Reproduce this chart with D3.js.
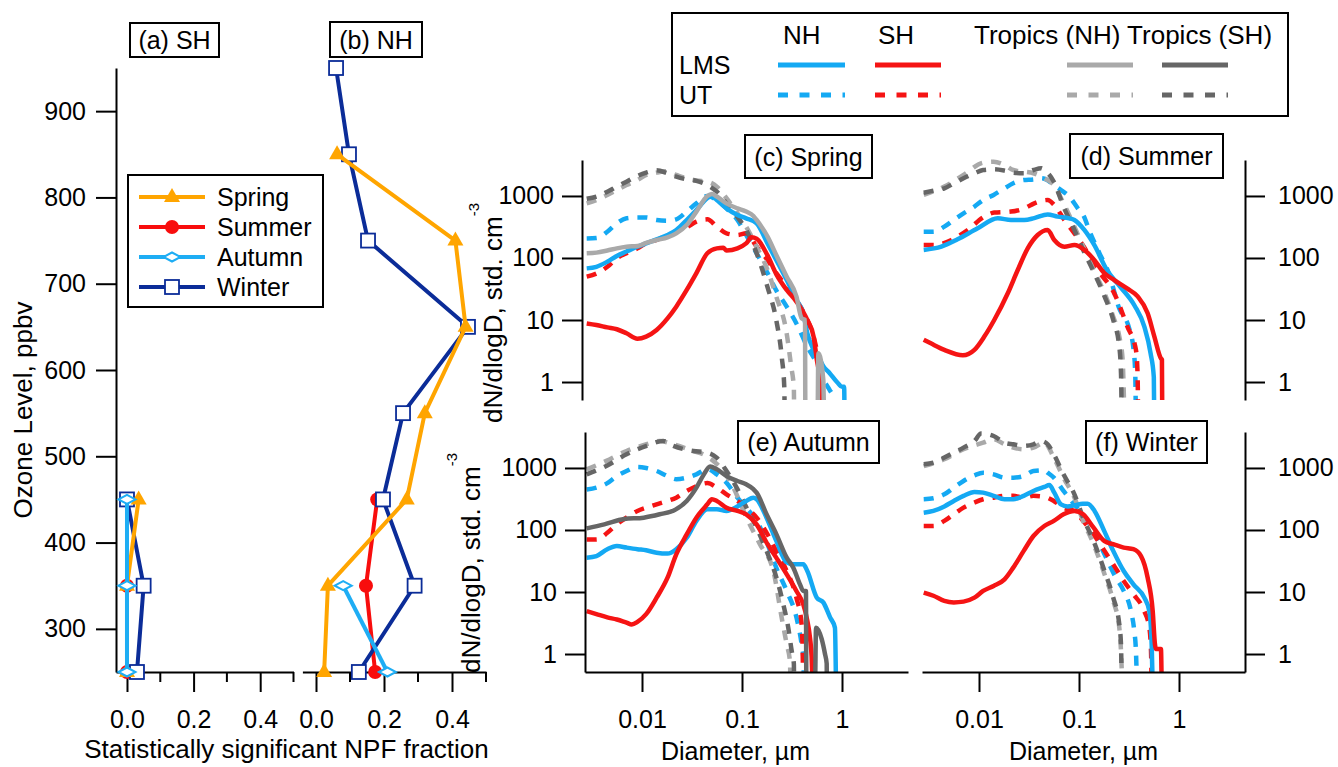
<!DOCTYPE html>
<html><head><meta charset="utf-8">
<script src="https://cdn.jsdelivr.net/npm/d3@7"></script>
<style>body{margin:0;background:#fff}</style>
</head><body>
<svg id="chart" width="1338" height="767"></svg>
<script>
// ---------------- DATA ----------------
// (a),(b): fraction of statistically significant NPF per ozone bin
const ozoneLevels = [250, 350, 450, 550, 650, 750, 850, 950];
const shSpringFrac = [0, 0, 0.035, null, null, null, null, null];
const shSummerFrac = [0, 0, null, null, null, null, null, null];
const shAutumnFrac = [0, 0, 0, null, null, null, null, null];
const shWinterFrac = [0.03, 0.05, 0, null, null, null, null, null];
const nhSpringFrac = [0.024, 0.035, 0.267, 0.32, 0.44, 0.41, 0.062, null];
const nhSummerFrac = [0.174, 0.147, 0.18, null, null, null, null, null];
const nhAutumnFrac = [0.21, 0.08, null, null, null, null, null, null];
const nhWinterFrac = [0.126, 0.29, 0.197, 0.256, 0.447, 0.153, 0.097, 0.059];
const seasonNames = ["Spring", "Summer", "Autumn", "Winter"];
const ozoneTicks = [300, 400, 500, 600, 700, 800, 900];
const fracMajorTicks = [0, 0.2, 0.4];
const fracMinorTicks = [0.1, 0.3, 0.5];
const diamTicks = [0.01, 0.1, 1];
const concTicks = [1, 10, 100, 1000];

// (c) Spring size distributions [diameter um, dN/dlogD]
const sprNhLms = [[0.0028,68],[0.0035,72],[0.0045,87],[0.0056,108],[0.007,127],[0.009,152],[0.011,172],[0.014,200],[0.018,235],[0.022,283],[0.028,410],[0.035,595],[0.045,920],[0.05,1000],[0.056,860],[0.07,630],[0.09,495],[0.11,436],[0.14,362],[0.18,172],[0.22,93],[0.28,44],[0.35,21],[0.41,12.8],[0.45,6.1],[0.52,3.3],[0.6,2.3],[0.65,1.8],[0.75,1.4],[0.89,1.0],[1.0,0.84],[1.05,0.84],[1.06,0.3]];
const sprNhUt = [[0.0028,207],[0.0035,210],[0.0045,265],[0.0056,362],[0.007,436],[0.009,450],[0.011,450],[0.014,410],[0.018,400],[0.022,420],[0.028,560],[0.035,762],[0.045,1000],[0.056,861],[0.07,630],[0.09,410],[0.11,235],[0.14,119],[0.18,57],[0.22,30],[0.28,16.4],[0.35,8.8],[0.45,3.7],[0.56,2],[0.65,1.1],[0.75,0.75],[0.82,0.55],[0.83,0.3]];
const sprShLms = [[0.0028,8.8],[0.0035,8.3],[0.0045,7.6],[0.0056,7.1],[0.007,6.1],[0.009,5.0],[0.011,5.4],[0.014,6.9],[0.018,10.6],[0.022,16.4],[0.028,30.5],[0.035,57],[0.045,119],[0.056,143],[0.065,146],[0.07,132],[0.09,143],[0.11,172],[0.125,215],[0.14,205],[0.18,110],[0.22,55],[0.28,30.5],[0.35,19.8],[0.45,10],[0.52,5.4],[0.56,2.3],[0.6,1.08],[0.63,0.3]];
const sprShUt = [[0.0028,50],[0.0035,56],[0.0045,72],[0.0056,99],[0.007,119],[0.009,143],[0.011,172],[0.014,195],[0.018,235],[0.022,265],[0.028,312],[0.035,385],[0.045,420],[0.056,320],[0.07,250],[0.09,235],[0.11,250],[0.14,152],[0.18,93],[0.22,57],[0.28,34.5],[0.35,21],[0.45,10],[0.52,5.4],[0.58,2.3],[0.62,1],[0.64,0.3]];
const sprTnhLms = [[0.0028,119],[0.0035,122],[0.0045,132],[0.0056,143],[0.007,152],[0.009,156],[0.011,175],[0.014,195],[0.018,215],[0.022,250],[0.028,340],[0.035,560],[0.045,1000],[0.05,1080],[0.056,980],[0.07,760],[0.09,630],[0.11,560],[0.13,475],[0.14,410],[0.18,221],[0.22,112],[0.28,50],[0.35,24],[0.395,10.6],[0.427,10],[0.43,0.3],[0.57,0.3],[0.58,2.9],[0.65,1.1],[0.66,0.3]];
const sprTnhUt = [[0.0028,762],[0.0035,860],[0.0045,1040],[0.0056,1250],[0.007,1500],[0.009,1810],[0.011,2180],[0.014,2380],[0.017,2500],[0.022,2180],[0.028,1930],[0.035,1770],[0.045,1700],[0.056,1415],[0.07,920],[0.09,525],[0.11,320],[0.14,152],[0.18,64],[0.22,24],[0.28,6],[0.31,1.8],[0.33,0.8],[0.332,0.3]];
const sprTshUt = [[0.0028,900],[0.0035,980],[0.0045,1170],[0.0056,1415],[0.007,1700],[0.009,2100],[0.011,2380],[0.014,2600],[0.018,2320],[0.022,2050],[0.028,1850],[0.035,1750],[0.045,1500],[0.056,1170],[0.07,760],[0.09,460],[0.11,283],[0.14,119],[0.18,34],[0.22,10],[0.25,2.5],[0.265,0.8],[0.267,0.3]];

// (d) Summer
const sumNhLms = [[0.0028,135],[0.0042,152],[0.0061,200],[0.0097,301],[0.0154,436],[0.0209,410],[0.0284,410],[0.0357,440],[0.0486,504],[0.061,464],[0.08,436],[0.09,410],[0.113,283],[0.142,162],[0.19,64],[0.26,34],[0.36,17],[0.45,7.8],[0.52,2.9],[0.56,1.2],[0.565,0.3]];
const sumNhUt = [[0.0028,265],[0.0035,265],[0.0045,320],[0.0056,410],[0.007,525],[0.009,673],[0.011,861],[0.014,1040],[0.018,1330],[0.022,1600],[0.028,1810],[0.035,1850],[0.042,1930],[0.048,1810],[0.056,1500],[0.066,1250],[0.08,975],[0.1,595],[0.11,495],[0.13,250],[0.16,120],[0.2,55],[0.25,16],[0.32,7],[0.35,3.5],[0.365,1.4],[0.37,0.3]];
const sumShLms = [[0.0028,4.8],[0.0033,4.2],[0.0045,3.3],[0.0069,2.7],[0.009,3.3],[0.0113,5.4],[0.0142,10],[0.0194,27],[0.0244,64],[0.0307,143],[0.0386,235],[0.0486,283],[0.0566,195],[0.0714,152],[0.09,162],[0.113,135],[0.142,93],[0.179,57],[0.225,44],[0.305,32],[0.386,24],[0.486,12.8],[0.567,5.4],[0.66,2.4],[0.675,2.3],[0.68,0.3]];
const sumShUt = [[0.0028,162],[0.0036,162],[0.0053,195],[0.0077,283],[0.0113,464],[0.0142,540],[0.0209,560],[0.0284,630],[0.0357,762],[0.0486,861],[0.0566,715],[0.0714,410],[0.09,250],[0.109,162],[0.154,64],[0.225,27],[0.305,7.8],[0.371,3.3],[0.385,1.38],[0.39,0.3]];
const sumTnhUt = [[0.0028,1040],[0.0045,1415],[0.007,2180],[0.011,3450],[0.014,3570],[0.018,3160],[0.022,2620],[0.028,2470],[0.035,2320],[0.045,1930],[0.056,1500],[0.07,762],[0.09,320],[0.11,152],[0.14,64],[0.18,27],[0.22,11.3],[0.253,5.4],[0.273,2.3],[0.284,0.3]];
const sumTshUt = [[0.0028,1130],[0.0035,1220],[0.0045,1330],[0.0056,1600],[0.007,1930],[0.009,2320],[0.011,2620],[0.014,2690],[0.018,2560],[0.022,2380],[0.028,2320],[0.035,2620],[0.042,2790],[0.045,2620],[0.056,1700],[0.07,673],[0.09,283],[0.11,135],[0.14,60],[0.18,24],[0.22,10],[0.253,3.7],[0.263,1.38],[0.267,0.3]];

// (e) Autumn
const autNhLms = [[0.0028,35.8],[0.0035,38],[0.0045,49],[0.0056,55],[0.007,52],[0.009,49],[0.011,47],[0.014,43],[0.018,41.6],[0.022,49],[0.028,75],[0.035,140],[0.045,216],[0.056,216],[0.07,203],[0.09,240],[0.11,294],[0.13,332],[0.14,313],[0.176,158],[0.221,66],[0.28,30],[0.326,27.9],[0.41,27.9],[0.45,21.8],[0.56,8.1],[0.65,6.8],[0.76,3.9],[0.85,2.66],[0.871,0.3]];
const autNhUt = [[0.0028,450],[0.0035,482],[0.0045,570],[0.0056,740],[0.007,895],[0.009,1040],[0.011,1000],[0.014,895],[0.018,740],[0.022,660],[0.028,698],[0.035,790],[0.045,960],[0.056,790],[0.07,580],[0.09,332],[0.11,229],[0.14,140],[0.18,59],[0.22,24.7],[0.28,10.4],[0.35,3.9],[0.395,1.43],[0.41,0.9],[0.417,0.3]];
const autShLms = [[0.0028,4.9],[0.0035,4.4],[0.0045,3.9],[0.0056,3.6],[0.007,3.2],[0.0079,3.0],[0.009,3.3],[0.011,4.4],[0.014,8.1],[0.018,17],[0.022,40.5],[0.028,85],[0.035,158],[0.045,259],[0.05,313],[0.056,294],[0.07,229],[0.09,203],[0.11,179],[0.14,123],[0.18,59],[0.22,35.8],[0.28,19.3],[0.35,10.4],[0.41,6.3],[0.443,3.9],[0.479,1.8],[0.497,0.9],[0.509,0.3]];
const autShUt = [[0.0028,70],[0.0035,70],[0.0045,90],[0.0056,123],[0.007,158],[0.009,203],[0.011,229],[0.014,259],[0.018,294],[0.022,332],[0.028,426],[0.035,510],[0.045,570],[0.056,482],[0.07,376],[0.09,294],[0.11,229],[0.14,158],[0.18,85],[0.22,46],[0.28,21.8],[0.35,8.1],[0.395,3.0],[0.404,1.12],[0.41,0.3]];
const autTnhUt = [[0.0028,950],[0.0044,1300],[0.007,1880],[0.0111,2410],[0.0151,2720],[0.0206,2410],[0.0326,1880],[0.041,1660],[0.0517,1300],[0.065,895],[0.082,482],[0.111,158],[0.151,59],[0.206,21.8],[0.249,3.9],[0.28,1.43],[0.302,0.75],[0.305,0.3]];
const autTshLms = [[0.0028,106],[0.0042,123],[0.0066,150],[0.0104,158],[0.015,179],[0.0216,213],[0.028,294],[0.035,482],[0.041,760],[0.048,1060],[0.056,950],[0.07,740],[0.09,617],[0.11,545],[0.13,455],[0.14,400],[0.176,179],[0.221,85],[0.28,35.8],[0.326,24.7],[0.38,13.3],[0.41,10.4],[0.436,10.4],[0.44,0.3],[0.537,0.3],[0.55,2.66],[0.626,1.75],[0.676,1.0],[0.703,0.7],[0.706,0.3]];
const autTshUt = [[0.0028,790],[0.0044,1080],[0.007,1660],[0.0111,2270],[0.0163,2720],[0.0206,2270],[0.0326,1880],[0.0442,1780],[0.0557,1470],[0.07,895],[0.0884,482],[0.111,229],[0.14,109],[0.176,46],[0.221,17],[0.259,6.3],[0.29,2.66],[0.314,1.12],[0.33,0.7],[0.332,0.3]];

// (f) Winter
const winNhLms = [[0.0028,190],[0.0035,203],[0.0045,240],[0.0056,294],[0.007,355],[0.009,410],[0.011,400],[0.014,355],[0.018,313],[0.022,313],[0.028,355],[0.035,426],[0.045,495],[0.0505,530],[0.0566,400],[0.066,259],[0.077,240],[0.09,250],[0.109,265],[0.122,265],[0.143,203],[0.179,96],[0.22,46],[0.28,21.8],[0.35,13.3],[0.45,8.1],[0.505,4.9],[0.533,1.43],[0.546,0.3]];
const winNhUt = [[0.0028,313],[0.0035,325],[0.0045,376],[0.0056,482],[0.007,617],[0.009,760],[0.011,840],[0.014,790],[0.018,698],[0.022,698],[0.028,740],[0.035,895],[0.045,920],[0.0486,840],[0.056,698],[0.07,426],[0.09,259],[0.11,179],[0.14,96],[0.18,40.5],[0.234,17],[0.28,10.4],[0.331,4.9],[0.357,2.35],[0.371,1.12],[0.38,0.3]];
const winShLms = [[0.0028,9.8],[0.0035,8.7],[0.0045,7.2],[0.0056,6.8],[0.007,7.0],[0.009,8.1],[0.011,10.4],[0.014,12.5],[0.018,16],[0.022,24.7],[0.028,46],[0.035,80],[0.045,116],[0.056,140],[0.07,179],[0.09,203],[0.11,179],[0.14,109],[0.18,66],[0.22,59],[0.28,52],[0.35,49],[0.417,38],[0.486,17],[0.546,4.9],[0.575,1.43],[0.589,1.2],[0.66,1.2],[0.671,0.3]];
const winShUt = [[0.0028,116],[0.0035,116],[0.0045,140],[0.0056,179],[0.007,229],[0.009,277],[0.011,313],[0.014,332],[0.018,355],[0.022,355],[0.028,332],[0.035,355],[0.045,343],[0.056,294],[0.07,229],[0.09,203],[0.11,140],[0.14,85],[0.18,46],[0.22,27.9],[0.28,15],[0.35,9.2],[0.45,4.9],[0.505,2.66],[0.525,1.12],[0.533,0.3]];
const winTnhUt = [[0.0028,1070],[0.0045,1380],[0.007,2000],[0.011,2560],[0.014,2900],[0.018,2410],[0.022,2130],[0.028,2000],[0.035,2130],[0.045,2560],[0.056,1470],[0.07,698],[0.09,332],[0.11,140],[0.14,59],[0.18,19.3],[0.22,7.2],[0.253,2.66],[0.263,1.12],[0.271,0.3]];
const winTshUt = [[0.0028,1150],[0.0035,1220],[0.0045,1470],[0.0056,1770],[0.007,2130],[0.009,2720],[0.0105,3600],[0.014,3280],[0.018,2560],[0.022,2410],[0.028,2270],[0.035,2410],[0.0417,2720],[0.0486,2410],[0.056,1660],[0.07,790],[0.09,376],[0.11,158],[0.14,66],[0.18,21.8],[0.22,8.1],[0.253,3.0],[0.263,1.43],[0.267,0.3]];

// ---------------- STYLE ----------------
const FONT = "'Liberation Sans', Arial, Helvetica, sans-serif";
const seasonColor = {Spring:"#ffa500", Summer:"#f80d0d", Autumn:"#1eadf4", Winter:"#0b2c98"};
const cNH = "#14a9f3", cSH = "#f51414", cTNH = "#a9a9a9", cTSH = "#666666";
const DASH = "10,9";

const svg = d3.select("#chart").attr("font-family", FONT);

function styleAxis(g, fs) {
  g.attr("font-family", FONT).attr("font-size", fs);
  g.select(".domain").attr("stroke", "#000").attr("stroke-width", 2);
  g.selectAll(".tick line").attr("stroke", "#000").attr("stroke-width", 2);
  g.selectAll(".tick text").attr("fill", "#000");
}
function labelBox(x, y, w, h, txt, fs) {
  svg.append("rect").attr("x", x).attr("y", y).attr("width", w).attr("height", h)
    .attr("fill", "#fff").attr("stroke", "#000").attr("stroke-width", 2);
  svg.append("text").attr("x", x + w / 2).attr("y", y + h / 2 + fs * 0.36)
    .attr("text-anchor", "middle").attr("font-size", fs).text(txt);
}

// ---------------- (a),(b) ----------------
const yOz = d3.scaleLinear().domain([250, 950]).range([672, 68]);
const xA = d3.scaleLinear().domain([-0.033, 0.5]).range([116, 293.5]);
const xB = d3.scaleLinear().domain([-0.04, 0.5]).range([302.4, 486]);

const gAy = svg.append("g").attr("transform", "translate(116,0)")
  .call(d3.axisLeft(yOz).tickValues(ozoneTicks).tickSize(20).tickSizeOuter(0).tickPadding(10));
styleAxis(gAy, 25);

[xA, xB].forEach(xs => {
  const g = svg.append("g").attr("transform", "translate(0,672)")
    .call(d3.axisBottom(xs).tickValues(fracMajorTicks).tickSize(20).tickSizeOuter(0)
      .tickPadding(18).tickFormat(d3.format(".1f")));
  styleAxis(g, 25);
  svg.append("g").selectAll("line").data(fracMinorTicks).join("line")
    .attr("x1", d => xs(d)).attr("x2", d => xs(d)).attr("y1", 672).attr("y2", 682)
    .attr("stroke", "#000").attr("stroke-width", 2);
});

function drawMarker(g, season, cx, cy) {
  const c = seasonColor[season];
  if (season === "Spring") {
    g.append("path").attr("d", "M0,-9L8,5L-8,5Z").attr("transform", `translate(${cx},${cy})`).attr("fill", c);
  } else if (season === "Summer") {
    g.append("circle").attr("cx", cx).attr("cy", cy).attr("r", 7).attr("fill", c);
  } else if (season === "Autumn") {
    g.append("path").attr("d", "M-8.5,0L0,-4.5L8.5,0L0,4.5Z").attr("transform", `translate(${cx},${cy})`)
      .attr("fill", "#fff").attr("stroke", c).attr("stroke-width", 2);
  } else {
    g.append("rect").attr("x", cx - 7).attr("y", cy - 7).attr("width", 14).attr("height", 14)
      .attr("fill", "#fff").attr("stroke", c).attr("stroke-width", 1.8);
  }
}

function drawProfiles(xs, fracs) {
  const order = ["Summer", "Winter", "Spring", "Autumn"];
  order.forEach(s => {
    const pts = ozoneLevels.map((o, i) => [fracs[s][i], o]).filter(d => d[0] !== null);
    const g = svg.append("g");
    g.append("path").datum(pts)
      .attr("d", d3.line().x(d => xs(d[0])).y(d => yOz(d[1])))
      .attr("fill", "none").attr("stroke", seasonColor[s]).attr("stroke-width", 4)
      .attr("stroke-linejoin", "round");
    pts.forEach(d => drawMarker(g, s, xs(d[0]), yOz(d[1])));
  });
}
drawProfiles(xA, {Spring: shSpringFrac, Summer: shSummerFrac, Autumn: shAutumnFrac, Winter: shWinterFrac});
drawProfiles(xB, {Spring: nhSpringFrac, Summer: nhSummerFrac, Autumn: nhAutumnFrac, Winter: nhWinterFrac});

// legend (a)
svg.append("rect").attr("x", 128).attr("y", 175).attr("width", 195).attr("height", 132)
  .attr("fill", "#fff").attr("stroke", "#000").attr("stroke-width", 2);
seasonNames.forEach((s, i) => {
  const yy = 197 + i * 30;
  const g = svg.append("g");
  g.append("line").attr("x1", 139).attr("x2", 205).attr("y1", yy).attr("y2", yy)
    .attr("stroke", seasonColor[s]).attr("stroke-width", 4);
  drawMarker(g, s, 172, yy);
  g.append("text").attr("x", 217).attr("y", yy + 9).attr("font-size", 25).text(s);
});

labelBox(130, 23, 89, 34, "(a) SH", 25);
labelBox(330, 22, 92, 35, "(b) NH", 25);

svg.append("text").attr("transform", "translate(32,410) rotate(-90)").attr("text-anchor", "middle")
  .attr("font-size", 26).text("Ozone Level, ppbv");
svg.append("text").attr("x", 286.5).attr("y", 758).attr("text-anchor", "middle")
  .attr("font-size", 26).text("Statistically significant NPF fraction");

// ---------------- (c)-(f) ----------------
const dLo = Math.pow(10, -2.57), dHi = Math.pow(10, 0.66);
const nLo = Math.pow(10, -0.29), nHi = Math.pow(10, 3.58);

function seriesList(nhL, nhU, shL, shU, tnL, tnU, tsL, tsU) {
  const list = [];
  if (nhU) list.push({d: nhU, c: cNH, dash: true});
  if (shU) list.push({d: shU, c: cSH, dash: true});
  if (tnU) list.push({d: tnU, c: cTNH, dash: true});
  if (tsU) list.push({d: tsU, c: cTSH, dash: true});
  if (nhL) list.push({d: nhL, c: cNH, dash: false});
  if (shL) list.push({d: shL, c: cSH, dash: false});
  if (tnL) list.push({d: tnL, c: cTNH, dash: false});
  if (tsL) list.push({d: tsL, c: cTSH, dash: false});
  return list;
}

const panels = [
  {key: "c", title: "(c) Spring", box: [745, 135, 127, 43], xr: [585, 908], yr: [400, 160], axisX: 582, side: "left", xAxis: false, lab: [502, 313],
   series: seriesList(sprNhLms, sprNhUt, sprShLms, sprShUt, sprTnhLms, sprTnhUt, null, sprTshUt)},
  {key: "d", title: "(d) Summer", box: [1070, 134, 153, 44], xr: [922, 1245], yr: [400, 160], axisX: 1245, side: "right", xAxis: false,
   series: seriesList(sumNhLms, sumNhUt, sumShLms, sumShUt, null, sumTnhUt, null, sumTshUt)},
  {key: "e", title: "(e) Autumn", box: [738, 421, 141, 42], xr: [585, 908], yr: [672, 432], axisX: 585, side: "left", xAxis: true, lab: [480, 563],
   series: seriesList(autNhLms, autNhUt, autShLms, autShUt, null, autTnhUt, autTshLms, autTshUt)},
  {key: "f", title: "(f) Winter", box: [1086, 421, 121, 42], xr: [922, 1245], yr: [672, 432], axisX: 1245, side: "right", xAxis: true,
   series: seriesList(winNhLms, winNhUt, winShLms, winShUt, null, winTnhUt, null, winTshUt)}
];

panels.forEach(p => {
  const x = d3.scaleLog().domain([dLo, dHi]).range(p.xr);
  const y = d3.scaleLog().domain([nLo, nHi]).range(p.yr);
  const clipId = "clip-" + p.key;
  svg.append("clipPath").attr("id", clipId).append("rect")
    .attr("x", p.xr[0] - 4).attr("y", p.yr[1] - 12).attr("width", p.xr[1] - p.xr[0] + 4)
    .attr("height", p.yr[0] - p.yr[1] + 12);
  const gl = svg.append("g").attr("clip-path", `url(#${clipId})`);
  const line = d3.line().x(d => x(d[0])).y(d => y(d[1])).curve(d3.curveMonotoneX);
  p.series.forEach(s => {
    gl.append("path").datum(s.d).attr("d", line).attr("fill", "none")
      .attr("stroke", s.c).attr("stroke-width", 4.5)
      .attr("stroke-dasharray", s.dash ? DASH : null).attr("stroke-linejoin", "round");
  });

  const yAxis = (p.side === "left" ? d3.axisLeft(y) : d3.axisRight(y))
    .tickValues(concTicks).tickSize(20).tickSizeOuter(0).tickPadding(p.side === "left" ? 8 : 13)
    .tickFormat(d3.format("d"));
  const gy = svg.append("g").attr("transform", `translate(${p.axisX},0)`).call(yAxis);
  styleAxis(gy, 25);

  if (p.xAxis) {
    const gx = svg.append("g").attr("transform", `translate(0,${p.yr[0]})`)
      .call(d3.axisBottom(x).tickValues(diamTicks).tickSize(20).tickSizeOuter(0).tickPadding(18)
        .tickFormat(d3.format("~g")));
    styleAxis(gx, 25);
    svg.append("text").attr("x", (p.xr[0] + p.xr[1]) / 2 - (p.side === "left" ? 11 : 0)).attr("y", 760)
      .attr("text-anchor", "middle").attr("font-size", 25).text("Diameter, \u00b5m");
  }
  if (p.lab) {
    const t = svg.append("text").attr("transform", `translate(${p.lab[0]},${p.lab[1]}) rotate(-90)`)
      .attr("text-anchor", "middle").attr("font-size", 26);
    t.append("tspan").text("dN/dlogD, std. cm");
    t.append("tspan").attr("dy", -23).attr("font-size", 15).text("-3");
  }
  labelBox(p.box[0], p.box[1], p.box[2], p.box[3], p.title, 25);
});

// ---------------- top legend ----------------
svg.append("rect").attr("x", 672).attr("y", 13).attr("width", 616).attr("height", 103)
  .attr("fill", "#fff").attr("stroke", "#000").attr("stroke-width", 2);
const legHeads = [["NH", 783], ["SH", 878], ["Tropics (NH) Tropics (SH)", 974]];
legHeads.forEach(h => svg.append("text").attr("x", h[1]).attr("y", 44).attr("font-size", 26).text(h[0]));
svg.append("text").attr("x", 679).attr("y", 74).attr("font-size", 25).text("LMS");
svg.append("text").attr("x", 679).attr("y", 104).attr("font-size", 25).text("UT");
const legLines = [[778, 845, cNH], [875, 941, cSH], [1067, 1133, cTNH], [1162, 1228, cTSH]];
legLines.forEach(l => {
  svg.append("line").attr("x1", l[0]).attr("x2", l[1]).attr("y1", 65).attr("y2", 65)
    .attr("stroke", l[2]).attr("stroke-width", 5);
  svg.append("line").attr("x1", l[0]).attr("x2", l[1]).attr("y1", 95).attr("y2", 95)
    .attr("stroke", l[2]).attr("stroke-width", 5).attr("stroke-dasharray", "10,11.5");
});
</script>
</body></html>
